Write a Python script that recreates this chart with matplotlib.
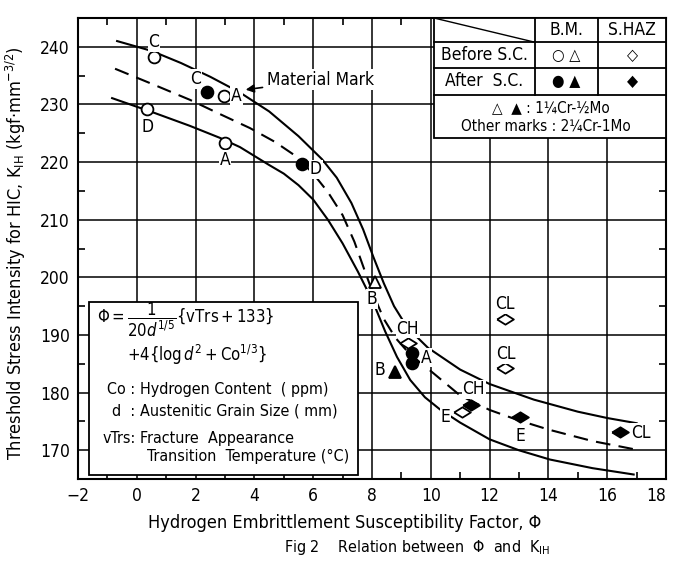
import matplotlib
matplotlib.use("Agg")
import matplotlib.pyplot as plt
from matplotlib.patches import Rectangle
from matplotlib.ticker import MultipleLocator

plt.rcParams['font.family'] = ['DejaVu Sans']
plt.rcParams['font.stretch'] = 'condensed'
plt.rcParams['mathtext.fontset'] = 'dejavusans'

# ---- Kurven ----
upper_x = [-0.67, 0.5, 1.5, 2.5, 3.5, 4.5, 5.5, 6.3, 6.8, 7.3, 7.7, 8.05, 8.4, 8.75, 9.2, 9.9, 11.0, 12.0, 13.5, 15.0, 16.0, 17.0]
upper_y = [241.0, 239.3, 237.2, 234.8, 232.1, 228.8, 224.5, 220.5, 217.3, 212.9, 208.3, 203.5, 199.0, 195.0, 191.3, 187.8, 184.0, 181.5, 178.8, 176.7, 175.6, 174.7]

mid_x = [-0.74, 0.5, 1.81, 2.8, 3.85, 4.7, 5.45, 6.0, 6.5, 7.0, 7.4, 7.75, 8.05, 8.4, 8.8, 9.3, 9.87, 11.0, 12.0, 12.93, 14.0, 15.5, 17.0]
mid_y = [236.2, 233.6, 230.8, 228.4, 225.9, 223.5, 220.9, 218.0, 214.8, 210.8, 206.2, 201.2, 197.0, 192.8, 189.5, 186.6, 184.3, 179.5, 177.0, 175.3, 173.6, 171.6, 170.1]

lower_x = [-0.84, 0.62, 1.8, 2.83, 3.51, 4.5, 5.0, 5.5, 6.0, 6.5, 7.0, 7.52, 8.03, 8.45, 8.85, 9.3, 9.8, 10.31, 11.0, 12.0, 13.0, 14.05, 15.5, 16.9]
lower_y = [231.1, 228.5, 226.3, 224.2, 222.6, 219.5, 218.0, 216.0, 213.5, 210.0, 205.9, 201.0, 195.8, 190.6, 186.2, 182.2, 179.2, 177.1, 174.8, 171.9, 170.0, 168.4, 166.9, 165.8]

# ---- Messpunkte ----
oc_x = [0.58, 2.97, 0.35, 3.0]          # B.M. vor S.C. (2 1/4Cr-1Mo)
oc_y = [238.2, 231.5, 229.2, 223.3]
oc_lbl = ["C", "A", "D", "A"]

fc_x = [2.39, 5.62, 9.36, 9.36]         # B.M. nach S.C.
fc_y = [232.2, 219.7, 186.8, 185.2]
fc_lbl = ["C", "D", "A", ""]

ot_x = [8.1]                            # 1 1/4Cr-1/2Mo vor S.C.
ot_y = [199.2]
ot_lbl = ["B"]

ft_x = [8.78]                           # 1 1/4Cr-1/2Mo nach S.C.
ft_y = [183.5]
ft_lbl = ["B"]

od_x = [9.22, 12.52, 12.52, 11.06]      # S.HAZ vor S.C.
od_y = [188.7, 192.7, 184.3, 176.7]
od_lbl = ["CH", "CL", "CL", "E"]

fd_x = [11.37, 13.03, 16.44]            # S.HAZ nach S.C.
fd_y = [177.9, 175.8, 173.2]
fd_lbl = ["CH", "E", "CL"]

# Label-Versatz in Punkten
oc_off = [(0, 11), (9, 0), (0, -13), (0, -12)]
fc_off = [(-8, 9), (10, -4), (10, -3), (0, 0)]
ot_off = [(-2, -12)]
ft_off = [(-11, 2)]
od_off = [(0, 10), (0, 11), (1, 10), (-12, -4)]
fd_off = [(2, 11), (0, -14), (15, -1)]

x_ticks = [-2, 0, 2, 4, 6, 8, 10, 12, 14, 16, 18]

diamond = [(-1, 0), (0, 0.62), (1, 0), (0, -0.62), (-1, 0)]

fig = plt.figure(figsize=(6.73, 5.63), dpi=100)
ax = fig.add_axes([0.1159, 0.149, 0.8737, 0.819])

ax.set_xlim(-2, 18)
ax.set_ylim(165, 245)
ax.set_xticks(x_ticks)
xt_labels = ax.set_xticklabels([str(t).replace("-", "\u2212") for t in x_ticks])
xt_labels[-1].set_horizontalalignment("right")
ax.xaxis.set_minor_locator(MultipleLocator(1))
ax.yaxis.set_major_locator(MultipleLocator(10))
ax.yaxis.set_minor_locator(MultipleLocator(5))
ax.tick_params(which="both", direction="in", top=True, right=True, width=1.2)
ax.tick_params(which="major", length=0, labelsize=12.5, pad=6)
ax.tick_params(which="minor", length=5)
ax.grid(True, which="major", color="black", linewidth=1.1)
for sp in ax.spines.values():
    sp.set_linewidth(1.5)

# Kurven
ax.plot(upper_x, upper_y, color="black", lw=1.5, zorder=3)
ax.plot(mid_x, mid_y, color="black", lw=1.5, ls=(0, (7, 4)), zorder=3)
ax.plot(lower_x, lower_y, color="black", lw=1.5, zorder=3)

ms = dict(color="black", ls="none", mec="black", mew=1.3, zorder=5)
ax.plot(oc_x, oc_y, marker="o", ms=8.5, mfc="white", **ms)
ax.plot(fc_x, fc_y, marker="o", ms=8.5, mfc="black", **ms)
ax.plot(ot_x, ot_y, marker="^", ms=8, mfc="white", **ms)
ax.plot(ft_x, ft_y, marker="^", ms=8, mfc="black", **ms)
ax.plot(od_x, od_y, marker=diamond, ms=12, mfc="white", **ms)
ax.plot(fd_x, fd_y, marker=diamond, ms=12, mfc="black", **ms)

for xs, ys, lbls, offs in [(oc_x, oc_y, oc_lbl, oc_off), (fc_x, fc_y, fc_lbl, fc_off),
                           (ot_x, ot_y, ot_lbl, ot_off), (ft_x, ft_y, ft_lbl, ft_off),
                           (od_x, od_y, od_lbl, od_off), (fd_x, fd_y, fd_lbl, fd_off)]:
    for x, y, t, o in zip(xs, ys, lbls, offs):
        if not t:
            continue
        ax.annotate(t, (x, y), xytext=o, textcoords="offset points",
                    ha="center", va="center", fontsize=12.5, zorder=6,
                    bbox=dict(boxstyle="square,pad=0.05", fc="white", ec="none"))

ax.annotate("Material Mark", xy=(3.61, 232.5), xytext=(4.43, 234.3),
            ha="left", va="center", fontsize=12.5, zorder=6,
            arrowprops=dict(arrowstyle="-|>", color="black", lw=1.2, mutation_scale=12),
            bbox=dict(boxstyle="square,pad=0.1", fc="white", ec="none"))

# Formel-Kasten
ax.add_patch(Rectangle((-1.63, 165.8), 9.15, 30.0, fc="white", ec="black", lw=1.3, zorder=4))
ax.text(-1.35, 192.6, r"$\Phi = \dfrac{1}{20d^{1/5}}\{\mathrm{vTrs} + 133\}$",
        fontsize=12, va="center", ha="left", zorder=5)
ax.text(-0.35, 186.6, r"$+4\{\log d^2 + \mathrm{Co}^{1/3}\}$",
        fontsize=12, va="center", ha="left", zorder=5)
txt = dict(fontsize=11.5, va="center", zorder=5)
ax.text(-0.05, 180.6, "Co :", ha="right", **txt)
ax.text(0.1, 180.6, "Hydrogen Content  ( ppm)", ha="left", **txt)
ax.text(-0.05, 176.8, "d  :", ha="right", **txt)
ax.text(0.1, 176.8, "Austenitic Grain Size ( mm)", ha="left", **txt)
ax.text(-0.05, 172.1, "vTrs:", ha="right", **txt)
ax.text(0.1, 172.1, "Fracture  Appearance", ha="left", **txt)
ax.text(0.35, 169.0, "Transition  Temperature (°C)", ha="left", **txt)

# Legenden-Tabelle
tx = [10.11, 13.54, 15.69, 18.0]
ty = [245.0, 240.8, 236.3, 231.7, 224.2]
ax.add_patch(Rectangle((tx[0], ty[4]), tx[3] - tx[0], ty[0] - ty[4], fc="white", ec="black", lw=1.3, zorder=4))
lk = dict(color="black", lw=1.3, zorder=5)
for yy in ty[1:4]:
    ax.plot([tx[0], tx[3]], [yy, yy], **lk)
ax.plot([tx[1], tx[1]], [ty[3], ty[0]], **lk)
ax.plot([tx[2], tx[2]], [ty[3], ty[0]], **lk)
ax.plot([tx[0], tx[1]], [ty[0], ty[1]], color="black", lw=1.0, zorder=5)
cell = dict(fontsize=12.5, ha="center", va="center", zorder=6)
ax.text((tx[1] + tx[2]) / 2, (ty[0] + ty[1]) / 2, "B.M.", **cell)
ax.text((tx[2] + tx[3]) / 2, (ty[0] + ty[1]) / 2, "S.HAZ", **cell)
ax.text((tx[0] + tx[1]) / 2, (ty[1] + ty[2]) / 2, "Before S.C.", **cell)
ax.text((tx[0] + tx[1]) / 2, (ty[2] + ty[3]) / 2, "After  S.C.", **cell)
sym = dict(fontsize=11.5, ha="center", va="center", zorder=6)
ax.text((tx[1] + tx[2]) / 2, (ty[1] + ty[2]) / 2, "○ △", **sym)
ax.text((tx[2] + tx[3]) / 2, (ty[1] + ty[2]) / 2, "◇", **sym)
ax.text((tx[1] + tx[2]) / 2, (ty[2] + ty[3]) / 2, "● ▲", **sym)
ax.text((tx[2] + tx[3]) / 2, (ty[2] + ty[3]) / 2, "◆", **sym)
ax.text(14.1, 229.5, "△  ▲ : 1¼Cr-½Mo", fontsize=11, ha="center", va="center", zorder=6)
ax.text(13.9, 226.3, "Other marks : 2¼Cr-1Mo", fontsize=11, ha="center", va="center", zorder=6)

ax.set_ylabel(r"Threshold Stress Intensity for HIC, K$_{\mathrm{IH}}$ (kgf·mm$^{-3/2}$)", fontsize=13)
ax.yaxis.set_label_coords(-0.085, 0.49)
ax.set_xlabel("Hydrogen Embrittlement Susceptibility Factor, Φ", fontsize=13)
ax.xaxis.set_label_coords(0.454, -0.075)
fig.text(0.62, 0.02, r"Fig 2    Relation between  Φ  and  K$_{\mathrm{IH}}$", fontsize=11.5, ha="center")

fig.savefig("out.png", dpi=100)
